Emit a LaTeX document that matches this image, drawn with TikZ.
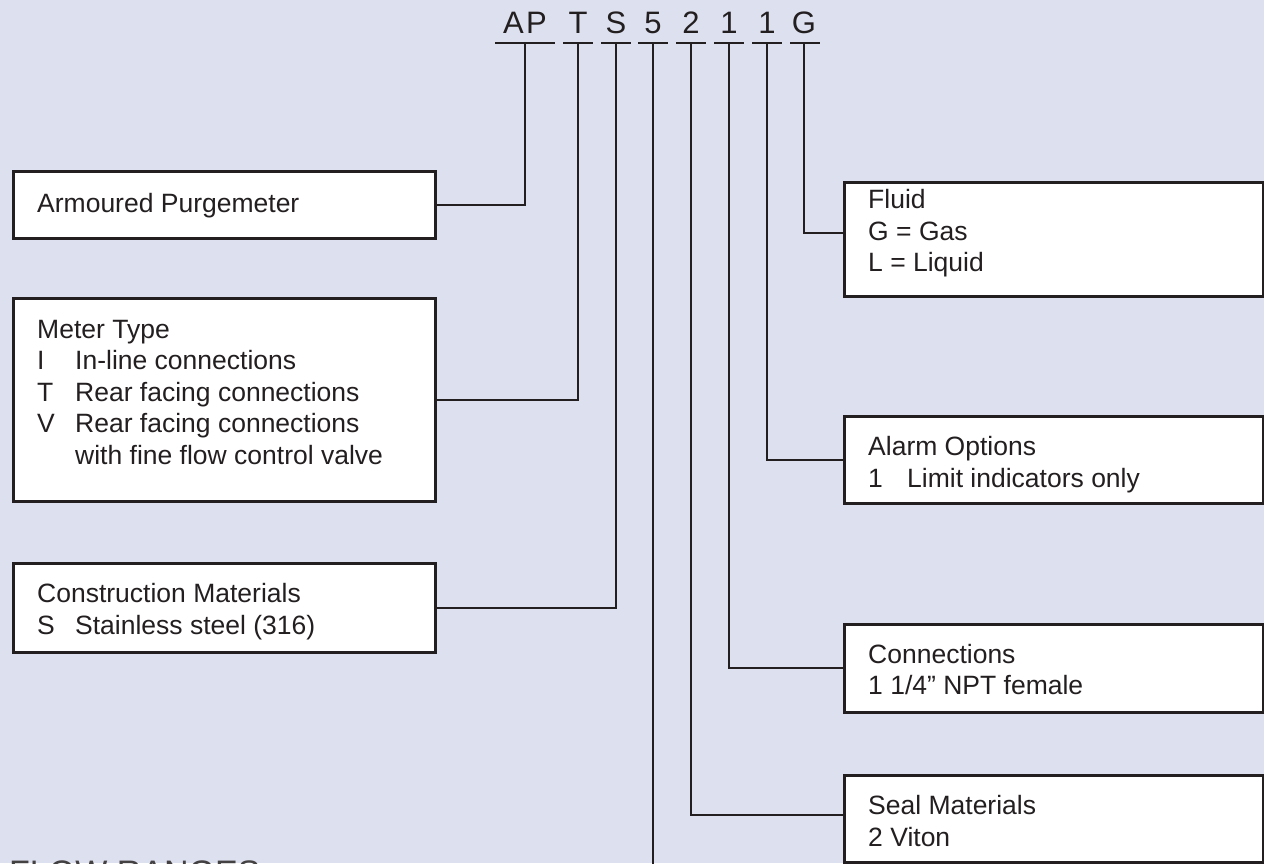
\documentclass[tikz,border=0pt]{standalone}
\usepackage{fontspec}
\setmainfont{Liberation Sans}
\definecolor{bg}{RGB}{221,224,239}
\definecolor{ink}{RGB}{35,31,32}
\newcommand\lbfont{\fontsize{26.5}{31.7}\selectfont}
\newcommand\codefont{\fontsize{31}{35}\selectfont}
\begin{document}
\begin{tikzpicture}[x=1pt,y=-1pt,
  box/.style={draw=ink, line width=2.5pt, fill=white, rectangle, inner sep=0pt, anchor=north west},
  lbl/.style={anchor=base west, inner sep=0pt, font=\lbfont, text=ink},
  code/.style={anchor=base, inner sep=0pt, font=\codefont, text=ink},
  uline/.style={draw=ink, line width=2.2pt},
  conn/.style={draw=ink, line width=2.2pt}]
\useasboundingbox (0,0) rectangle (1264,863);
\clip (0,0) rectangle (1264,863);
\fill[bg] (0,0) rectangle (1264,863);

% code letters
\node[code] (cAP) at (525,33) {A\kern2.5pt P};
\node[code] (cT) at (578,33) {T};
\node[code] (cS) at (616,33) {S};
\node[code] (c5) at (653,33) {5};
\node[code] (c2) at (691,33) {2};
\node[code] (c1a) at (729,33) {1};
\node[code] (c1b) at (767,33) {1};
\node[code] (cG) at (804,33) {G};

% underlines
\draw[uline] (495,43) -- (555,43);
\draw[uline] (563,43) -- (593,43);
\draw[uline] (601,43) -- (631,43);
\draw[uline] (638,43) -- (668,43);
\draw[uline] (676,43) -- (706,43);
\draw[uline] (714,43) -- (744,43);
\draw[uline] (752,43) -- (782,43);
\draw[uline] (790,43) -- (820,43);

\coordinate (uAP) at (525,43);
\coordinate (uT) at (578,43);
\coordinate (uS) at (616,43);
\coordinate (u5) at (653,43);
\coordinate (u2) at (691,43);
\coordinate (u1a) at (729,43);
\coordinate (u1b) at (767,43);
\coordinate (uG) at (804,43);
\coordinate (end5) at (653,880);

% left boxes
\node[box, minimum width=422pt, minimum height=67pt] (armour) at (12,170) {};
\node[lbl] (armourT) at (37,212) {Armoured Purgemeter};

\node[box, minimum width=422pt, minimum height=203pt] (meter) at (12,297) {};
\node[lbl] (meterT) at (37,338) {Meter Type};
\node[lbl] (meterI) at (37,369.5) {I};
\node[lbl] (meterIt) at (75,369.5) {In-line connections};
\node[lbl] (meterTT) at (37,401) {T};
\node[lbl] (meterTt) at (75,401) {Rear facing connections};
\node[lbl] (meterV) at (37,432.5) {V};
\node[lbl] (meterVt) at (75,432.5) {Rear facing connections};
\node[lbl] (meterVt2) at (75,464) {with fine flow control valve};

\node[box, minimum width=422pt, minimum height=89pt] (constr) at (12,562) {};
\node[lbl] (constrT) at (37,602) {Construction Materials};
\node[lbl] (constrS) at (37,634) {S};
\node[lbl] (constrSt) at (75,634) {Stainless steel (316)};

% right boxes
\node[box, minimum width=419pt, minimum height=114pt] (fluid) at (843,181) {};
\node[lbl] (fluidT) at (868,208) {Fluid};
\node[lbl] (fluidG) at (868,240) {G = Gas};
\node[lbl] (fluidL) at (868,271.5) {L = Liquid};

\node[box, minimum width=419pt, minimum height=87pt] (alarm) at (843,415) {};
\node[lbl] (alarmT) at (868,455) {Alarm Options};
\node[lbl] (alarm1) at (868,487) {1};
\node[lbl] (alarm1t) at (907,487) {Limit indicators only};

\node[box, minimum width=419pt, minimum height=88pt] (conn) at (843,623) {};
\node[lbl] (connT) at (868,663) {Connections};
\node[lbl] (conn1) at (868,694) {1 1/4\char"201D{} NPT female};

\node[box, minimum width=419pt, minimum height=87pt] (seal) at (843,774) {};
\node[lbl] (sealT) at (868,814) {Seal Materials};
\node[lbl] (seal2) at (868,846) {2 Viton};

% flow ranges heading (cut off at the lower edge, as in the reference)
\node[anchor=base west, inner sep=0pt, font=\fontsize{34}{40}\selectfont, text=ink!85] (flow) at (9,884) {FLOW RANGES};

% connectors
\draw[conn] (uAP) |- (armour.east);
\draw[conn] (uT) |- (meter.east);
\draw[conn] (uS) |- (constr.east);
\draw[conn] (u5) -- (end5);
\draw[conn] (u2) |- ([yshift=3.5pt]seal.west);
\draw[conn] (u1a) |- (conn.west);
\draw[conn] (u1b) |- (alarm.west);
\draw[conn] (uG) |- ([yshift=6pt]fluid.west);
\end{tikzpicture}
\end{document}
